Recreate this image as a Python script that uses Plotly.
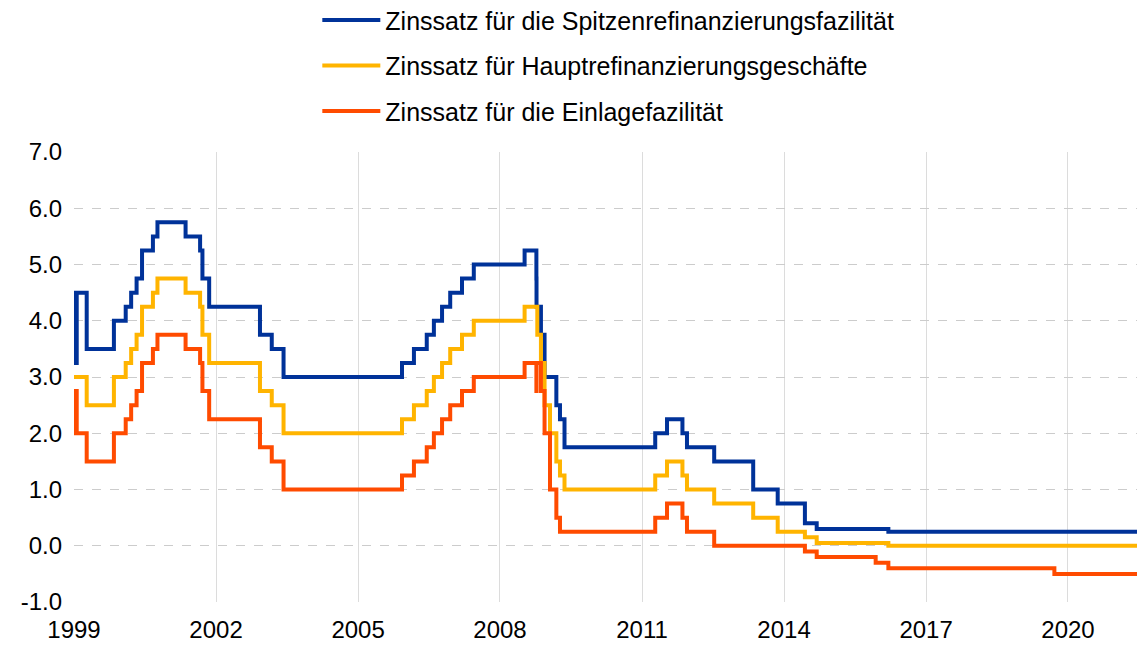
import plotly.graph_objects as go

end_date = "2021-10-18"

mlf_dates = ["1999-01-01","1999-01-04","1999-01-22","1999-04-09","1999-11-05","2000-02-04","2000-03-17",
             "2000-04-28","2000-06-09","2000-09-01","2000-10-06","2001-05-11","2001-08-31","2001-09-18",
             "2001-11-09","2002-12-06","2003-03-07","2003-06-06","2005-12-06","2006-03-08","2006-06-15",
             "2006-08-09","2006-10-11","2006-12-13","2007-03-14","2007-06-13","2008-07-09","2008-10-08",
             "2008-10-09","2008-11-12","2008-12-10","2009-03-11","2009-04-08","2009-05-13","2011-04-13",
             "2011-07-13","2011-11-09","2011-12-14","2012-07-11","2013-05-08","2013-11-13","2014-06-11",
             "2014-09-10","2016-03-16"]
mlf_values = [4.50,3.25,4.50,3.50,4.00,4.25,4.50,4.75,5.25,5.50,5.75,5.50,5.25,4.75,4.25,3.75,3.50,3.00,
              3.25,3.50,3.75,4.00,4.25,4.50,4.75,5.00,5.25,4.75,4.25,3.75,3.00,2.50,2.25,1.75,2.00,2.25,
              2.00,1.75,1.50,1.00,0.75,0.40,0.30,0.25]

mro_dates = ["1999-01-01","1999-04-09","1999-11-05","2000-02-04","2000-03-17","2000-04-28","2000-06-09",
             "2000-09-01","2000-10-06","2001-05-11","2001-08-31","2001-09-18","2001-11-09","2002-12-06",
             "2003-03-07","2003-06-06","2005-12-06","2006-03-08","2006-06-15","2006-08-09","2006-10-11",
             "2006-12-13","2007-03-14","2007-06-13","2008-07-09","2008-10-15","2008-11-12","2008-12-10",
             "2009-01-21","2009-03-11","2009-04-08","2009-05-13","2011-04-13","2011-07-13","2011-11-09",
             "2011-12-14","2012-07-11","2013-05-08","2013-11-13","2014-06-11","2014-09-10","2016-03-16"]
mro_values = [3.00,2.50,3.00,3.25,3.50,3.75,4.25,4.50,4.75,4.50,4.25,3.75,3.25,2.75,2.50,2.00,2.25,2.50,
              2.75,3.00,3.25,3.50,3.75,4.00,4.25,3.75,3.25,2.50,2.00,1.50,1.25,1.00,1.25,1.50,1.25,1.00,
              0.75,0.50,0.25,0.15,0.05,0.00]

df_dates = ["1999-01-01","1999-01-04","1999-01-22","1999-04-09","1999-11-05","2000-02-04","2000-03-17",
            "2000-04-28","2000-06-09","2000-09-01","2000-10-06","2001-05-11","2001-08-31","2001-09-18",
            "2001-11-09","2002-12-06","2003-03-07","2003-06-06","2005-12-06","2006-03-08","2006-06-15",
            "2006-08-09","2006-10-11","2006-12-13","2007-03-14","2007-06-13","2008-07-09","2008-10-08",
            "2008-10-09","2008-11-12","2008-12-10","2009-01-21","2009-03-11","2009-04-08","2011-04-13",
            "2011-07-13","2011-11-09","2011-12-14","2012-07-11","2014-06-11","2014-09-10","2015-12-09",
            "2016-03-16","2019-09-18"]
df_values = [2.00,2.75,2.00,1.50,2.00,2.25,2.50,2.75,3.25,3.50,3.75,3.50,3.25,2.75,2.25,1.75,1.50,1.00,
             1.25,1.50,1.75,2.00,2.25,2.50,2.75,3.00,3.25,2.75,3.25,2.75,2.00,1.00,0.50,0.25,0.50,0.75,
             0.50,0.25,0.00,-0.10,-0.20,-0.30,-0.40,-0.50]

names = ["Zinssatz für die Spitzenrefinanzierungsfazilität",
         "Zinssatz für Hauptrefinanzierungsgeschäfte",
         "Zinssatz für die Einlagefazilität"]
colors = ["#003299", "#FFB400", "#FF4B00"]

year_ticks = ["1999-01-01","2002-01-01","2005-01-01","2008-01-01","2011-01-01","2014-01-01","2017-01-01","2020-01-01"]
year_labels = ["1999","2002","2005","2008","2011","2014","2017","2020"]
y_ticks = [-1, 0, 1, 2, 3, 4, 5, 6, 7]
y_labels = ["-1.0","0.0","1.0","2.0","3.0","4.0","5.0","6.0","7.0"]

fig = go.Figure()
series = [(mlf_dates, mlf_values), (mro_dates, mro_values), (df_dates, df_values)]
for i, ((d, v), n, c) in enumerate(zip(series, names, colors)):
    fig.add_trace(go.Scatter(
        x=d + [end_date], y=v + [v[-1]], mode="lines", name=n,
        line=dict(color=c, width=4, shape="hv"), legendgroup=str(i),
    ))

fig.update_layout(
    width=1145, height=646,
    margin=dict(l=66, r=0, t=144, b=52, autoexpand=False),
    paper_bgcolor="white", plot_bgcolor="white",
    font=dict(family="Liberation Sans, Arial, sans-serif", size=24, color="black"),
    showlegend=True,
    legend=dict(x=0.2255, y=1.344, xanchor="left", yanchor="top", traceorder="grouped",
                tracegroupgap=10, font=dict(size=25), bgcolor="rgba(0,0,0,0)",
                itemwidth=58),
    xaxis=dict(type="date", range=["1999-01-01", end_date], tickvals=year_ticks, ticktext=year_labels,
               showgrid=True, gridcolor="#dcdcdc", gridwidth=1, zeroline=False, showline=False,
               ticks="", tickfont=dict(size=24), automargin=False, ticklabelstandoff=11),
    yaxis=dict(range=[-1, 7], tickvals=y_ticks, ticktext=y_labels, showgrid=True,
               gridcolor="#cccccc", griddash="dash", gridwidth=1, zeroline=False, showline=False,
               ticks="", ticklabelstandoff=11, tickfont=dict(size=24), automargin=False),
)

fig.write_html("out.html")
